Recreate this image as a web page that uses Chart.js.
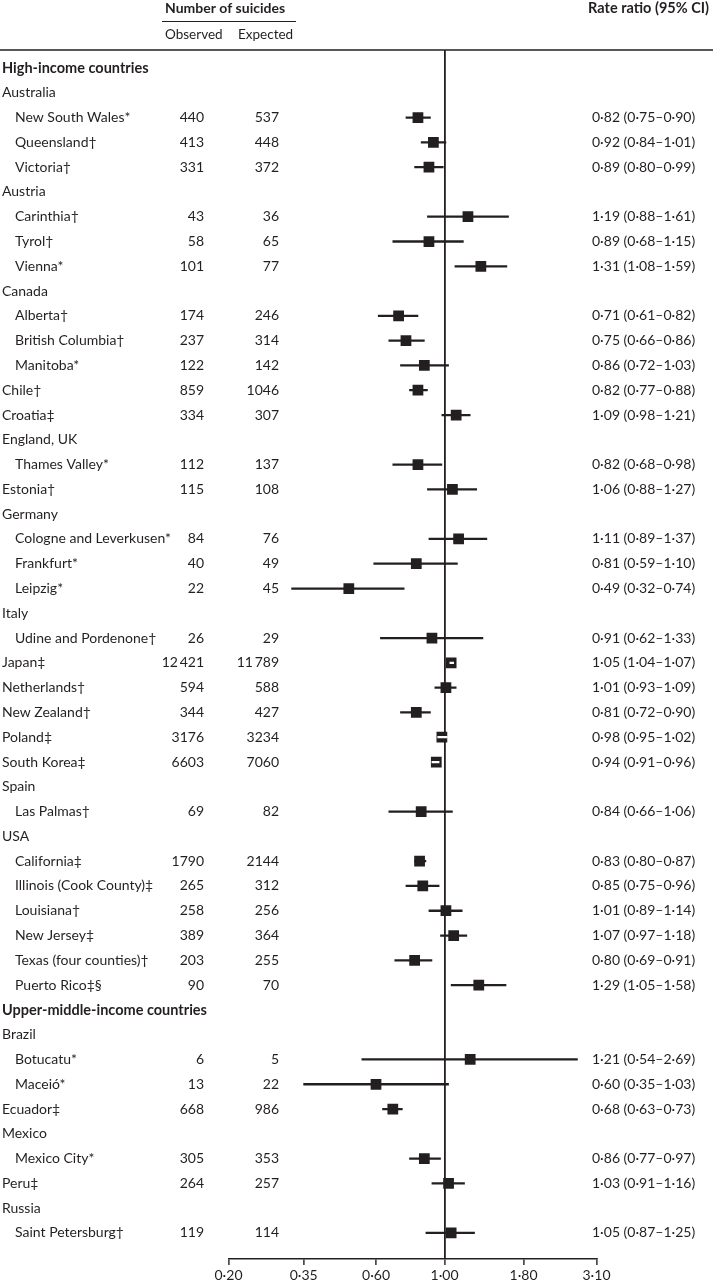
<!DOCTYPE html>
<html>
<head>
<meta charset="utf-8">
<script src="https://cdn.jsdelivr.net/npm/chart.js@4.4.1/dist/chart.umd.min.js"></script>
<style>
  html, body { margin: 0; padding: 0; background: #fff; }
  #wrap { position: relative; width: 713px; height: 1284px; }
</style>
</head>
<body>
<div id="wrap"><canvas id="forestPlot"></canvas></div>
<script>
// Rows of the table, top to bottom
const rowLabels = [
  'High-income countries', 'Australia', 'New South Wales*', 'Queensland\u2020', 'Victoria\u2020',
  'Austria', 'Carinthia\u2020', 'Tyrol\u2020', 'Vienna*',
  'Canada', 'Alberta\u2020', 'British Columbia\u2020', 'Manitoba*',
  'Chile\u2020', 'Croatia\u2021', 'England, UK', 'Thames Valley*', 'Estonia\u2020',
  'Germany', 'Cologne and Leverkusen*', 'Frankfurt*', 'Leipzig*',
  'Italy', 'Udine and Pordenone\u2020', 'Japan\u2021', 'Netherlands\u2020', 'New Zealand\u2020',
  'Poland\u2021', 'South Korea\u2021', 'Spain', 'Las Palmas\u2020',
  'USA', 'California\u2021', 'Illinois (Cook County)\u2021', 'Louisiana\u2020', 'New Jersey\u2021',
  'Texas (four counties)\u2020', 'Puerto Rico\u2021\u00a7',
  'Upper-middle-income countries', 'Brazil', 'Botucatu*', 'Macei\u00f3*', 'Ecuador\u2021',
  'Mexico', 'Mexico City*', 'Peru\u2021', 'Russia', 'Saint Petersburg\u2020'
];
// 0 = income group, 1 = country, 2 = region within country
const rowLevels = [
  0, 1, 2, 2, 2,
  1, 2, 2, 2,
  1, 2, 2, 2,
  1, 1, 1, 2, 1,
  1, 2, 2, 2,
  1, 2, 1, 1, 1,
  1, 1, 1, 2,
  1, 2, 2, 2, 2,
  2, 2,
  0, 1, 2, 2, 1,
  1, 2, 1, 1, 2
];
const observed = [
  null, null, 440, 413, 331,
  null, 43, 58, 101,
  null, 174, 237, 122,
  859, 334, null, 112, 115,
  null, 84, 40, 22,
  null, 26, 12421, 594, 344,
  3176, 6603, null, 69,
  null, 1790, 265, 258, 389,
  203, 90,
  null, null, 6, 13, 668,
  null, 305, 264, null, 119
];
const expected = [
  null, null, 537, 448, 372,
  null, 36, 65, 77,
  null, 246, 314, 142,
  1046, 307, null, 137, 108,
  null, 76, 49, 45,
  null, 29, 11789, 588, 427,
  3234, 7060, null, 82,
  null, 2144, 312, 256, 364,
  255, 70,
  null, null, 5, 22, 986,
  null, 353, 257, null, 114
];
const rateRatio = [
  null, null, 0.82, 0.92, 0.89,
  null, 1.19, 0.89, 1.31,
  null, 0.71, 0.75, 0.86,
  0.82, 1.09, null, 0.82, 1.06,
  null, 1.11, 0.81, 0.49,
  null, 0.91, 1.05, 1.01, 0.81,
  0.98, 0.94, null, 0.84,
  null, 0.83, 0.85, 1.01, 1.07,
  0.80, 1.29,
  null, null, 1.21, 0.60, 0.68,
  null, 0.86, 1.03, null, 1.05
];
const ciLower = [
  null, null, 0.75, 0.84, 0.80,
  null, 0.88, 0.68, 1.08,
  null, 0.61, 0.66, 0.72,
  0.77, 0.98, null, 0.68, 0.88,
  null, 0.89, 0.59, 0.32,
  null, 0.62, 1.04, 0.93, 0.72,
  0.95, 0.91, null, 0.66,
  null, 0.80, 0.75, 0.89, 0.97,
  0.69, 1.05,
  null, null, 0.54, 0.35, 0.63,
  null, 0.77, 0.91, null, 0.87
];
const ciUpper = [
  null, null, 0.90, 1.01, 0.99,
  null, 1.61, 1.15, 1.59,
  null, 0.82, 0.86, 1.03,
  0.88, 1.21, null, 0.98, 1.27,
  null, 1.37, 1.10, 0.74,
  null, 1.33, 1.07, 1.09, 0.90,
  1.02, 0.96, null, 1.06,
  null, 0.87, 0.96, 1.14, 1.18,
  0.91, 1.58,
  null, null, 2.69, 1.03, 0.73,
  null, 0.97, 1.16, null, 1.25
];
const tickValues = [0.2, 0.35, 0.6, 1, 1.8, 3.1];
const tickLabels = ['0\u00b720', '0\u00b735', '0\u00b760', '1\u00b700', '1\u00b780', '3\u00b710'];

const INK = '#231f20';
const FONT = 'Lato, "Noto Sans", sans-serif';

const dec = v => v.toFixed(2).replace('.', '\u00b7');
const count = v => v >= 10000 ? String(v).replace(/(\d+)(\d{3})$/, '$1\u2009$2') : String(v);

// CI bars and point estimates, only for rows that carry data
const ciData = [];
const pointData = [];
const ciColors = [];
rowLabels.forEach((label, i) => {
  if (rateRatio[i] == null) return;
  ciData.push({ x: [ciLower[i], ciUpper[i]], y: i + 1 });
  pointData.push({ x: rateRatio[i], y: i + 1 });
  // very narrow intervals sit inside the square, so show them in white
  ciColors.push(Math.log10(ciUpper[i] / ciLower[i]) < 0.034 ? '#ffffff' : INK);
});

const textColumns = {
  id: 'textColumns',
  afterDraw(chart) {
    const { ctx, scales: { y } } = chart;
    ctx.save();
    ctx.fillStyle = INK;
    ctx.strokeStyle = INK;
    ctx.textBaseline = 'middle';

    // column headers
    ctx.textAlign = 'left';
    ctx.font = 'bold 14px ' + FONT;
    ctx.fillText('Number of suicides', 165, 8);
    ctx.font = '13.5px ' + FONT;
    ctx.fillText('Observed', 165, 35);
    ctx.fillText('Expected', 238, 35);
    ctx.textAlign = 'right';
    ctx.font = 'bold 14.5px ' + FONT;
    ctx.fillText('Rate ratio (95% CI)', 709, 8);

    ctx.lineWidth = 1;
    ctx.beginPath();
    ctx.moveTo(162, 21.5);
    ctx.lineTo(296, 21.5);
    ctx.stroke();
    ctx.lineWidth = 1.6;
    ctx.beginPath();
    ctx.moveTo(0, 50);
    ctx.lineTo(chart.width, 50);
    ctx.stroke();

    rowLabels.forEach((label, i) => {
      const py = y.getPixelForValue(i + 1);
      ctx.textAlign = 'left';
      ctx.font = rowLevels[i] === 0 ? 'bold 14.5px ' + FONT : '14px ' + FONT;
      ctx.fillText(label, rowLevels[i] === 2 ? 15 : 2, py);
      if (observed[i] == null) return;
      ctx.font = '14px ' + FONT;
      ctx.textAlign = 'right';
      ctx.fillText(count(observed[i]), 204, py);
      ctx.fillText(count(expected[i]), 279, py);
      ctx.textAlign = 'left';
      ctx.fillText(dec(rateRatio[i]) + ' (' + dec(ciLower[i]) + '\u2013' + dec(ciUpper[i]) + ')', 592, py);
    });
    ctx.restore();
  }
};

const ctx = document.getElementById('forestPlot').getContext('2d');
new Chart(ctx, {
  type: 'bar',
  data: {
    datasets: [{
      type: 'bar',
      label: '95% CI',
      indexAxis: 'y',
      data: ciData,
      backgroundColor: ciColors,
      borderWidth: 0,
      barThickness: 1.6,
      order: 0
    }, {
      type: 'scatter',
      label: 'Rate ratio',
      data: pointData,
      pointStyle: 'rect',
      pointRadius: 7.6,
      pointBorderWidth: 0,
      pointBackgroundColor: INK,
      showLine: false,
      order: 1
    }]
  },
  options: {
    indexAxis: 'y',
    responsive: true,
    maintainAspectRatio: false,
    animation: false,
    events: [],
    layout: { padding: { left: 228.5, right: 116.5, top: 50, bottom: 0 } },
    plugins: {
      legend: { display: false },
      tooltip: { enabled: false },
      title: { display: false }
    },
    scales: {
      x: {
        type: 'logarithmic',
        position: 'bottom',
        min: 0.2,
        max: 3.1,
        afterBuildTicks: scale => { scale.ticks = tickValues.map(v => ({ value: v })); },
        afterFit: scale => { scale.height = 25; },
        border: { display: true, color: INK, width: 1.6 },
        grid: {
          color: c => (c.tick && c.tick.value === 1 ? INK : 'rgba(0,0,0,0)'),
          lineWidth: 1.8,
          tickColor: INK,
          tickWidth: 1.4,
          tickLength: 6,
          drawOnChartArea: true
        },
        ticks: {
          autoSkip: false,
          maxRotation: 0,
          padding: 2,
          color: INK,
          font: { family: FONT, size: 14 },
          callback: v => tickLabels[tickValues.indexOf(v)]
        }
      },
      y: {
        type: 'linear',
        display: false,
        offset: false,
        reverse: true,
        min: 0.274,
        max: 49.05
      }
    }
  },
  plugins: [textColumns]
});
</script>
</body>
</html>
